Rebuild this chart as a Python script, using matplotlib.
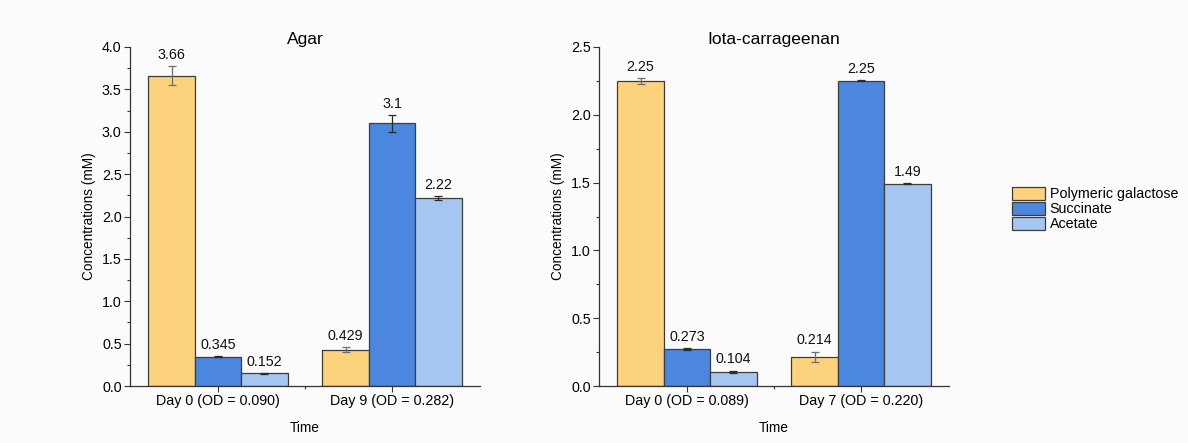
import matplotlib
matplotlib.use("Agg")
import matplotlib.pyplot as plt
import numpy as np
from matplotlib.ticker import MultipleLocator, FixedLocator
from matplotlib.patches import Patch

plt.rcParams['font.family'] = ['Liberation Sans', 'DejaVu Sans']

series = ["Polymeric galactose", "Succinate", "Acetate"]
colors = ["#FDD27C", "#4C87DF", "#A6C6F2"]
err_colors = ["#6e6e6e", "#2a2a2a", "#2a2a2a"]

agar_title = "Agar"
agar_cats = ["Day 0 (OD = 0.090)", "Day 9 (OD = 0.282)"]
agar_vals = [[3.66, 0.429], [0.345, 3.1], [0.152, 2.22]]
agar_errs = [[0.11, 0.03], [0.008, 0.1], [0.005, 0.02]]
agar_labels = [["3.66", "0.429"], ["0.345", "3.1"], ["0.152", "2.22"]]
agar_ymax, agar_yticks = 4.0, np.arange(0, 4.01, 0.5)

iota_title = "Iota-carrageenan"
iota_cats = ["Day 0 (OD = 0.089)", "Day 7 (OD = 0.220)"]
iota_vals = [[2.25, 0.214], [0.273, 2.25], [0.104, 1.49]]
iota_errs = [[0.02, 0.04], [0.005, 0.004], [0.01, 0.004]]
iota_labels = [["2.25", "0.214"], ["0.273", "2.25"], ["0.104", "1.49"]]
iota_ymax, iota_yticks = 2.5, np.arange(0, 2.51, 0.5)

W, H = 1188, 443
fig = plt.figure(figsize=(W / 100, H / 100), dpi=100)
fig.patch.set_facecolor("#fbfbfb")

FS = 10.3

def make_axes(x0, x1, y0, y1):
    return fig.add_axes([x0 / W, 1 - y1 / H, (x1 - x0) / W, (y1 - y0) / H])

def draw(ax, title, cats, vals, errs, labels, ymax, yticks):
    ax.set_facecolor("none")
    n = len(series)
    bw = 0.8 / n
    x = np.arange(len(cats))
    for i in range(n):
        pos = x - 0.4 + bw * (i + 0.5)
        ax.bar(pos, vals[i], width=bw, color=colors[i], edgecolor="#3c3c3c",
               linewidth=0.9, zorder=2)
        ax.errorbar(pos, vals[i], yerr=errs[i], fmt="none", ecolor=err_colors[i],
                    elinewidth=0.9, capsize=3, capthick=0.9, zorder=3)
        for p, v, e, lab in zip(pos, vals[i], errs[i], labels[i]):
            ax.annotate(lab, (p, v + e), xytext=(0, 3), textcoords="offset points",
                        ha="center", va="bottom", fontsize=FS, color="#111111")
    ax.set_xlim(-0.505, 1.505)
    ax.set_ylim(0, ymax)
    ax.set_xticks(x)
    ax.set_xticklabels(cats, fontsize=FS)
    ax.xaxis.set_minor_locator(FixedLocator([0.5]))
    ax.set_yticks(yticks)
    ax.set_yticklabels([f"{t:.1f}" for t in yticks], fontsize=FS)
    ax.yaxis.set_minor_locator(MultipleLocator(0.25))
    ax.tick_params(axis="both", which="major", direction="out", length=4, width=0.8,
                   color="#333333", pad=2)
    ax.tick_params(axis="both", which="minor", direction="out", length=2.5, width=0.8,
                   color="#333333")
    for s in ["top", "right"]:
        ax.spines[s].set_visible(False)
    for s in ["left", "bottom"]:
        ax.spines[s].set_linewidth(0.9)
        ax.spines[s].set_color("#333333")
    ax.set_title(title, fontsize=12.5, pad=0)
    ax.set_xlabel("Time", fontsize=9.8, labelpad=9)
    ax.set_ylabel("Concentrations (mM)", fontsize=9.8, labelpad=4)

ax1 = make_axes(130, 480, 47, 386)
draw(ax1, agar_title, agar_cats, agar_vals, agar_errs, agar_labels, agar_ymax, agar_yticks)
ax2 = make_axes(599, 949, 47, 386)
draw(ax2, iota_title, iota_cats, iota_vals, iota_errs, iota_labels, iota_ymax, iota_yticks)

handles = [Patch(facecolor=c, edgecolor="#3c3c3c", linewidth=0.9) for c in colors]
fig.legend(handles, series, loc="upper left", bbox_to_anchor=(1006 / W, 1 - 181 / H),
           frameon=False, fontsize=10.3, handlelength=2.3, handleheight=1.1,
           handletextpad=0.35, labelspacing=0.02, borderaxespad=0)

fig.savefig("out.png", dpi=100, facecolor=fig.get_facecolor())
